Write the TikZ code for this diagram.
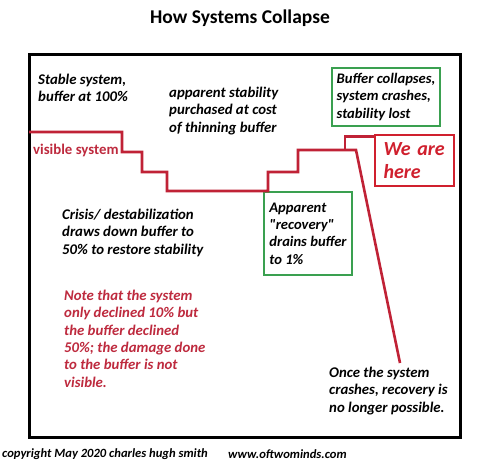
\documentclass[tikz,border=0pt]{standalone}
\usepackage{fontspec}
\setmainfont{Carlito}
\definecolor{lred}{RGB}{192,34,54}
\definecolor{nred}{RGB}{190,42,62}
\definecolor{wred}{RGB}{208,32,46}
\definecolor{bgreen}{RGB}{58,160,80}
\tikzset{
  txt/.style={font=\fontsize{14.8}{17.3}\selectfont\bfseries\itshape, align=left, inner sep=0pt, anchor=north west},
  gbox/.style={draw=bgreen, line width=2.6pt, font=\fontsize{14.6}{17.3}\selectfont\bfseries\itshape, align=left, inner sep=0pt},
  sysline/.style={draw=lred, line width=2.6pt, line join=miter},
}
\begin{document}
\begin{tikzpicture}[x=1pt,y=-1pt]
\useasboundingbox (0,0) rectangle (485,468);
\fill[white] (0,0) rectangle (485,468);
\node[font=\fontsize{19.5}{22}\selectfont\bfseries] (title) at (240,18) {How Systems Collapse};
\draw[line width=3pt] (29,55) rectangle (460,437);
% texts
\node[txt] (stable) at (38,74) {Stable system,\\buffer at 100\%};
\node[txt] (apparent) at (169,87) {apparent stability\\purchased at cost\\of thinning buffer};
\node[txt, font=\fontsize{14.8}{17}\selectfont\bfseries, text=nred] (visible) at (33,144) {visible system};
\node[txt] (crisis) at (62,209) {Crisis/ destabilization\\draws down buffer to\\50\% to restore stability};
\node[txt, text=nred] (note) at (64,290) {Note that the system\\only declined 10\% but\\the buffer declined\\50\%; the damage done\\to the buffer is not\\visible.};
\node[txt] (once) at (329,367) {Once the system\\crashes, recovery is\\no longer possible.};
% boxes
\node[gbox, minimum width=108pt, minimum height=58pt] (collapse) at (386,97) {Buffer collapses,\\system crashes,\\stability lost};
\node[gbox, minimum width=88pt, minimum height=83pt] (recovery) at (308,233.5) {Apparent\\\textquotedbl recovery\textquotedbl\\drains buffer\\to 1\%};
\node[draw=wred, line width=2.8pt, minimum width=79pt, minimum height=51pt, text width=62pt, align=left, inner xsep=4pt, inner ysep=0pt, text=wred, font=\fontsize{20}{23}\selectfont\bfseries\itshape] (wah) at (414.5,160.5) {We are\\here};
% visible system line
\coordinate (start) at (29,132);
\coordinate (peak) at (345,150);
\coordinate (crash) at (400,363);
\draw[sysline] (start) -- (122,132) -- (122,152) -- (142,152) -- (142,172) -- (167,172) -- (167,191) -- (268,191) -- (268,172) -- (298,172) -- (298,150) -- (356,150) -- (crash);
\draw[sysline] (peak) |- ([yshift=-3pt]wah.north west);
% footer
\node[txt, font=\fontsize{12.6}{14}\selectfont\bfseries\itshape, anchor=west] (copy) at (2,454) {copyright May 2020 charles hugh smith};
\node[txt, font=\fontsize{12.6}{14}\selectfont\bfseries\itshape, anchor=west] (www) at (228,454) {www.oftwominds.com};
\end{tikzpicture}
\end{document}
